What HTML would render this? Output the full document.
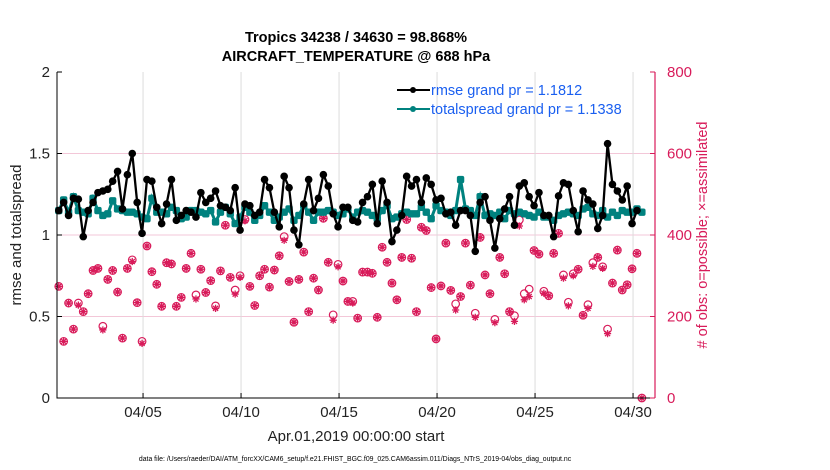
<!DOCTYPE html>
<html><head><meta charset="utf-8"><style>
body{margin:0;background:#fff;}
svg{display:block;font-family:"Liberation Sans",Arial,sans-serif;}
</style></head><body>
<svg id="chart" width="830" height="470" viewBox="0 0 830 470" xmlns="http://www.w3.org/2000/svg"></svg>
<script>
const xTickLabels=["04/05","04/10","04/15","04/20","04/25","04/30"];
const xTickDays=[4,9,14,19,24,29];
const yLeftTicks=[0,0.5,1,1.5,2];
const yRightTicks=[0,200,400,600,800];
const rmse=[1.15,1.20,1.12,1.225,1.22,0.99,1.15,1.20,1.26,1.27,1.28,1.33,1.39,1.16,1.37,1.50,1.20,1.01,1.34,1.33,1.17,1.07,1.19,1.34,1.09,1.12,1.15,1.14,1.11,1.26,
1.20,1.225,1.27,1.18,1.17,1.15,1.29,1.03,1.19,1.18,1.12,1.14,1.34,1.29,1.14,1.05,1.36,1.29,1.03,0.94,1.19,1.34,1.15,1.225,1.37,1.30,1.13,1.05,1.17,1.17,
1.09,1.08,1.20,1.235,1.31,1.07,1.33,1.20,0.96,1.03,1.12,1.36,1.30,1.34,1.20,1.35,1.31,1.215,1.225,1.13,1.14,1.06,1.15,1.15,1.12,0.90,1.20,1.235,1.09,0.92,
1.10,1.16,1.235,1.06,1.30,1.32,1.235,1.18,1.26,1.12,1.12,0.99,1.24,1.32,1.31,1.15,1.02,1.27,1.215,1.19,1.04,1.12,1.56,1.31,1.27,1.215,1.30,1.07,1.15];
const spread=[1.15,1.215,1.14,1.235,1.15,1.14,1.13,1.225,1.15,1.12,1.13,1.21,1.16,1.15,1.14,1.14,1.13,1.11,1.10,1.225,1.14,1.14,1.13,1.17,1.15,1.10,1.11,1.15,1.15,1.14,
1.13,1.15,1.08,1.14,1.17,1.13,1.07,1.11,1.17,1.14,1.09,1.12,1.18,1.14,1.09,1.11,1.14,1.16,1.09,1.12,1.18,1.14,1.09,1.14,1.14,1.15,1.14,1.12,1.13,1.16,
1.11,1.14,1.15,1.14,1.12,1.10,1.15,1.18,1.10,1.11,1.13,1.14,1.13,1.13,1.17,1.14,1.10,1.18,1.15,1.14,1.12,1.15,1.34,1.16,1.15,1.12,1.235,1.12,1.13,1.12,
1.14,1.10,1.15,1.13,1.14,1.13,1.12,1.11,1.14,1.11,1.11,1.09,1.12,1.13,1.14,1.13,1.12,1.16,1.17,1.13,1.12,1.15,1.11,1.14,1.12,1.15,1.14,1.14,1.16,1.14];
const nPossible=[274,139,233,169,233,212,256,313,318,176,291,313,260,147,318,339,234,139,373,310,279,225,332,329,225,247,318,355,253,316,
259,288,226,312,424,296,265,300,438,274,227,300,316,272,314,349,396,286,186,291,358,212,294,265,441,333,204,328,287,237,
237,196,309,309,306,198,370,333,282,241,345,438,343,212,419,411,271,145,275,380,264,231,249,380,277,208,394,302,256,193,345,
305,212,202,437,256,267,362,353,262,251,355,404,302,235,305,316,203,229,332,345,322,169,282,363,265,278,317,355,0];
const nAssim=[274,139,233,169,228,212,256,313,318,167,291,313,260,147,318,335,234,134,373,310,279,225,332,329,225,247,318,355,243,316,
259,288,220,312,424,296,255,296,435,274,227,300,316,272,314,349,387,286,186,291,358,212,294,265,441,333,191,322,287,237,
233,196,309,309,306,198,370,333,282,241,345,438,343,212,419,411,271,145,275,380,264,216,249,380,277,198,394,302,256,185,345,
305,212,188,422,241,249,362,353,257,251,355,404,294,226,300,316,203,220,323,345,318,158,282,363,265,278,317,355,0];

const NS="http://www.w3.org/2000/svg";
const svg=document.getElementById('chart');
const L=57,R=655,T=72,B=398;
const d0=-0.39,pxDay=19.6;
function xs(d){return L+(d-d0)*pxDay;}
function yl(v){return B-(v/2)*(B-T);}
function yr(c){return B-(c/800)*(B-T);}
function tday(i){return i*0.25-0.3;}
function mk(tag,attrs,parent){const e=document.createElementNS(NS,tag);for(const k in attrs)e.setAttribute(k,attrs[k]);(parent||svg).appendChild(e);return e;}
const MAG="#d81b5a",TEAL="#00827f",BLUE="#1a5ff0";

yLeftTicks.forEach((v,i)=>{if(v>0&&v<2){const g=mk('line',{x1:L,x2:R,y1:yl(v),y2:yl(v),stroke:'#f3c7d8','stroke-width':1});

}});
xTickDays.forEach(d=>{const g=mk('line',{x1:xs(d),x2:xs(d),y1:T,y2:B,stroke:'#dcdcdc','stroke-width':1});

});

const obsG=mk('g',{});


nPossible.forEach((c,i)=>{const c1=mk('circle',{cx:xs(tday(i)),cy:yr(c),r:3.8,fill:'none',stroke:MAG,'stroke-width':1.2},obsG);

});
nAssim.forEach((c,i)=>{const x=xs(tday(i)),y=yr(c);let p='';
for(let k=0;k<4;k++){const a=k*Math.PI/4;p+=`M${x-3.6*Math.cos(a)},${y-3.6*Math.sin(a)}L${x+3.6*Math.cos(a)},${y+3.6*Math.sin(a)}`;}
const s=mk('path',{d:p,stroke:MAG,'stroke-width':1.3,fill:'none'},obsG);

});

const sp=spread.map((v,i)=>`${xs(tday(i))},${yl(v)}`).join(' ');
const spl=mk('polyline',{points:sp,fill:'none',stroke:TEAL,'stroke-width':3});


spread.forEach((v,i)=>{const r=mk('rect',{x:xs(tday(i))-3.7,y:yl(v)-3.7,width:7.4,height:7.4,rx:2,fill:TEAL});

});

const rp=rmse.map((v,i)=>`${xs(tday(i))},${yl(v)}`).join(' ');
const rl=mk('polyline',{points:rp,fill:'none',stroke:'#000','stroke-width':2.3});


rmse.forEach((v,i)=>{const c=mk('circle',{cx:xs(tday(i)),cy:yl(v),r:3.8,fill:'#000'});

});

const ax=mk('path',{d:`M${L},${T}V${B}H${R}`,stroke:'#000','stroke-width':1,fill:'none'});


const rax=mk('line',{x1:R,x2:R,y1:T,y2:B,stroke:MAG,'stroke-width':1.2});



yLeftTicks.forEach(v=>{mk('line',{x1:L,x2:L+5,y1:yl(v),y2:yl(v),stroke:'#000'});
const t=mk('text',{x:L-7,y:yl(v)+5,'text-anchor':'end','font-size':15,fill:'#222'});t.textContent=String(v);

});
yRightTicks.forEach(v=>{mk('line',{x1:R-5,x2:R,y1:yr(v),y2:yr(v),stroke:MAG});
const t=mk('text',{x:R+12,y:yr(v)+5,'font-size':15,fill:MAG});t.textContent=String(v);

});
xTickDays.forEach((d,i)=>{mk('line',{x1:xs(d),x2:xs(d),y1:B,y2:B-5,stroke:'#000'});
const t=mk('text',{x:xs(d),y:B+19,'text-anchor':'middle','font-size':15,fill:'#222'});t.textContent=xTickLabels[i];

});
</script>
<svg style="position:absolute;left:0;top:0" width="830" height="470">
<text x="356" y="42" text-anchor="middle" font-size="14.5" font-weight="bold" font-family="Liberation Sans, sans-serif">Tropics 34238 / 34630 = 98.868%</text>
<text x="356" y="61" text-anchor="middle" font-size="14.5" font-weight="bold" font-family="Liberation Sans, sans-serif">AIRCRAFT_TEMPERATURE @ 688 hPa</text>
<text transform="translate(21,235) rotate(-90)" text-anchor="middle" font-size="15" fill="#222" font-family="Liberation Sans, sans-serif">rmse and totalspread</text>
<text transform="translate(707,235) rotate(-90)" text-anchor="middle" font-size="14.5" fill="#d81b5a" font-family="Liberation Sans, sans-serif"># of obs: o=possible; ×=assimilated</text>
<text x="356" y="441" text-anchor="middle" font-size="15" fill="#222" font-family="Liberation Sans, sans-serif">Apr.01,2019 00:00:00 start</text>
<text x="355" y="461" text-anchor="middle" font-size="6.9" fill="#000" font-family="Liberation Sans, sans-serif">data file: /Users/raeder/DAI/ATM_forcXX/CAM6_setup/f.e21.FHIST_BGC.f09_025.CAM6assim.011/Diags_NTrS_2019-04/obs_diag_output.nc</text>
<g>
<g>
<line x1="397" x2="430" y1="90" y2="90" stroke="#000" stroke-width="2"/><circle cx="413" cy="90" r="3" fill="#000"/>
<text x="431" y="95" font-size="14.5" fill="#1a5ff0" font-family="Liberation Sans, sans-serif">rmse grand pr = 1.1812</text></g>
<g>
<line x1="397" x2="430" y1="109" y2="109" stroke="#00827f" stroke-width="2"/><circle cx="413" cy="109" r="3" fill="#00827f"/>
<text x="431" y="114" font-size="14.5" fill="#1a5ff0" font-family="Liberation Sans, sans-serif">totalspread grand pr = 1.1338</text></g>
</g>
</svg>
</body></html>
